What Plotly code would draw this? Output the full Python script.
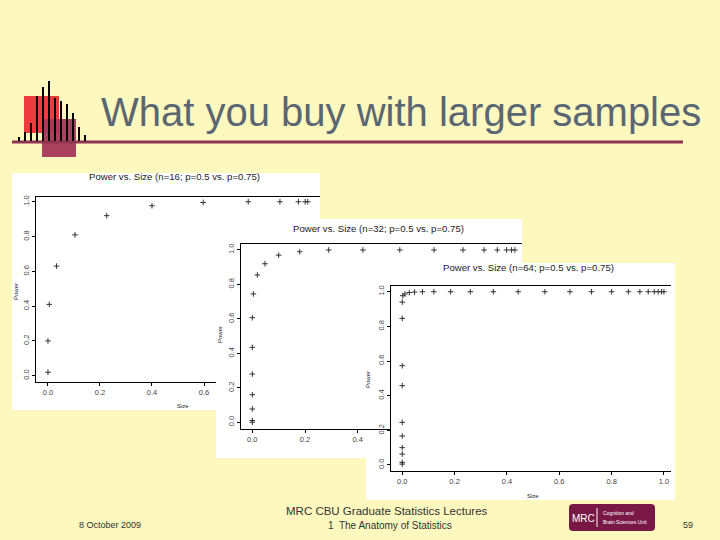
import plotly.graph_objects as go

W, H = 720, 540
BG = "#fcf8be"
FONT = "Liberation Sans, Arial, sans-serif"

# power vs. size points
size_n16 = [0.0, 0.0, 0.005, 0.033, 0.104, 0.226, 0.40, 0.597, 0.77, 0.892, 0.963, 0.989, 0.999]
power_n16 = [0.02, 0.20, 0.41, 0.63, 0.81, 0.92, 0.977, 0.996, 1.0, 1.0, 1.0, 1.0, 1.0]

size_n32 = [0.0, 0.0, 0.0, 0.0, 0.0, 0.0, 0.0, 0.004, 0.019, 0.048, 0.10, 0.18, 0.29,
            0.42, 0.56, 0.69, 0.80, 0.88, 0.93, 0.965, 0.984, 0.997]
power_n32 = [0.0, 0.01, 0.077, 0.16, 0.28, 0.435, 0.607, 0.745, 0.855, 0.92, 0.97, 0.99, 1.0,
             1.0, 1.0, 1.0, 1.0, 1.0, 1.0, 1.0, 1.0, 1.0]

size_n64 = [0.0, 0.0, 0.0, 0.0, 0.0, 0.0, 0.0, 0.0, 0.0, 0.0, 0.002, 0.01, 0.027, 0.047, 0.077,
            0.121, 0.185, 0.26, 0.348, 0.443, 0.545, 0.641, 0.723, 0.80, 0.864, 0.908,
            0.94, 0.963, 0.978, 0.991, 1.0]
power_n64 = [0.005, 0.015, 0.063, 0.10, 0.167, 0.246, 0.458, 0.573, 0.846, 0.94, 0.977, 0.987,
             0.995, 0.998, 1.0, 1.0, 1.0, 1.0, 1.0, 1.0, 1.0, 1.0, 1.0, 1.0, 1.0, 1.0,
             1.0, 1.0, 1.0, 1.0, 1.0]

panel_titles = ["Power vs. Size (n=16; p=0.5 vs. p=0.75)",
                "Power vs. Size (n=32; p=0.5 vs. p=0.75)",
                "Power vs. Size (n=64; p=0.5 vs. p=0.75)"]
tick_vals = [0.0, 0.2, 0.4, 0.6, 0.8, 1.0]

# logo spikes (heights in px above the rule)
logo_heights = [4, 9, 18, 45, 54, 60, 43, 40, 37, 28, 14, 6]


def px(v):
    return v / W


def py(v):
    return 1 - v / H


fig = go.Figure()
layout = dict(
    template="none",
    width=W, height=H, margin=dict(l=0, r=0, t=0, b=0),
    paper_bgcolor=BG, plot_bgcolor="white", showlegend=False,
    font=dict(family=FONT, color="#222"),
)

hidden = dict(visible=False, showgrid=False, zeroline=False, fixedrange=True)

# (white panel box, plot box, x range, y range, data)
panels = [
    ((12, 173, 320, 410), (36, 196.7, 320, 382), [-0.046, 1.046], [-0.036, 1.029], size_n16, power_n16),
    ((216, 219, 522, 458), (241, 244.3, 522, 429.3), [-0.043, 1.024], [-0.041, 1.033], size_n32, power_n32),
    ((366, 263, 675, 500), (391, 286, 671, 470.7), [-0.043, 1.027], [-0.033, 1.033], size_n64, power_n64),
]

n = 1
for bg, box, xr, yr, xs, ys in panels:
    # white "pasted picture" background
    xa, ya = ("x" if n == 1 else f"x{n}"), ("y" if n == 1 else f"y{n}")
    fig.add_trace(go.Scatter(x=[None], y=[None], xaxis=xa, yaxis=ya, hoverinfo="skip"))
    layout[f"xaxis{'' if n == 1 else n}"] = dict(hidden, domain=[px(bg[0]), px(bg[2])],
                                                 range=[0, 1], anchor=ya)
    layout[f"yaxis{'' if n == 1 else n}"] = dict(hidden, domain=[py(bg[3]), py(bg[1])],
                                                 range=[0, 1], anchor=xa)
    n += 1
    # the R plot itself
    xa, ya = f"x{n}", f"y{n}"
    fig.add_trace(go.Scatter(
        x=xs, y=ys, xaxis=xa, yaxis=ya, mode="markers",
        marker=dict(symbol="cross-thin", size=4, line=dict(color="#333", width=1)),
    ))
    common = dict(showgrid=False, zeroline=False, showline=True, linecolor="black", linewidth=1,
                  ticks="outside", ticklen=3, tickcolor="black", tickvals=tick_vals,
                  tickformat=".1f", tickfont=dict(size=7.5, color="#444", family=FONT),
                  fixedrange=True)
    layout[f"xaxis{n}"] = dict(common, domain=[px(box[0]), px(box[2])], range=xr,
                               anchor=ya, mirror=True)
    layout[f"yaxis{n}"] = dict(common, domain=[py(box[3]), py(box[1])], range=yr,
                               anchor=xa, tickangle=-90)
    n += 1

# logo spikes
fig.add_trace(go.Bar(x=list(range(len(logo_heights))), y=logo_heights, width=0.34,
                     marker=dict(color="black", line=dict(width=0)), xaxis="x7", yaxis="y7",
                     hoverinfo="skip"))
layout["xaxis7"] = dict(hidden, domain=[px(13), px(91)], range=[-1, 12], anchor="y7")
layout["yaxis7"] = dict(hidden, domain=[py(141), py(80)], range=[0, 61], anchor="x7")

shapes = [
    # cover the logo subplot background with slide colour
    dict(type="rect", xref="paper", yref="paper", x0=px(13), x1=px(91), y0=py(141), y1=py(80),
         fillcolor=BG, line=dict(width=0), layer="below"),
    dict(type="rect", xref="paper", yref="paper", x0=px(24), x1=px(59), y0=py(133), y1=py(96),
         fillcolor="#ee3b40", line=dict(width=0), layer="below"),
    dict(type="rect", xref="paper", yref="paper", x0=px(42), x1=px(76), y0=py(157), y1=py(119),
         fillcolor="#a5385a", opacity=0.95, line=dict(width=0), layer="below"),
    dict(type="line", xref="paper", yref="paper", x0=px(12), x1=px(683), y0=py(142), y1=py(142),
         line=dict(color="#8e3452", width=3), layer="below"),
]

# MRC logo (rounded box)
x0, x1, y0, y1, r = px(569), px(655), py(531), py(504), 4
rx, ry = r / W, r / H
shapes.append(dict(
    type="path", xref="paper", yref="paper", fillcolor="#7a1845", line=dict(width=0),
    path=(f"M {x0+rx},{y0} L {x1-rx},{y0} Q {x1},{y0} {x1},{y0+ry} L {x1},{y1-ry} "
          f"Q {x1},{y1} {x1-rx},{y1} L {x0+rx},{y1} Q {x0},{y1} {x0},{y1-ry} "
          f"L {x0},{y0+ry} Q {x0},{y0} {x0+rx},{y0} Z"),
))
shapes.append(dict(type="line", xref="paper", yref="paper", x0=px(597), x1=px(597),
                   y0=py(527), y1=py(508), line=dict(color="white", width=1)))
layout["shapes"] = shapes


def note(text, x, y, size, color="#222", angle=0, xanchor="center"):
    return dict(text=text, x=px(x), y=py(y), xref="paper", yref="paper", showarrow=False,
                xanchor=xanchor, yanchor="middle", textangle=angle,
                font=dict(size=size, color=color, family=FONT))


annotations = [
    note("What you buy with larger samples", 99, 112, 40, color="#5a6673", xanchor="left"),
    note(panel_titles[0], 174, 177, 9.6),
    note(panel_titles[1], 378, 228, 9.6),
    note(panel_titles[2], 528, 267, 9.6),
    note("Power", 16, 292, 6, angle=-90),
    note("Power", 220, 335, 6, angle=-90),
    note("Power", 368, 380, 6, angle=-90),
    note("Size", 183, 406, 6),
    note("Size", 533, 496, 6),
    note("8 October 2009", 110, 525, 9, color="#333"),
    note("MRC CBU Graduate Statistics Lectures", 387, 511, 11.5, color="#333"),
    note("1  The Anatomy of Statistics", 390, 525, 10, color="#333"),
    note("59", 688, 525, 9, color="#333"),
    note("MRC", 583, 518, 10, color="white"),
    note("Cognition and", 601, 513, 5, color="white", xanchor="left"),
    note("Brain Sciences Unit", 601, 522, 5, color="white", xanchor="left"),
]
layout["annotations"] = annotations

fig.update_layout(layout)
# drop the browser's default 8px body margin so the slide sits at the window origin
fig.write_html("out.html", config={"displayModeBar": False},
               post_script="document.body.style.margin='0';")
